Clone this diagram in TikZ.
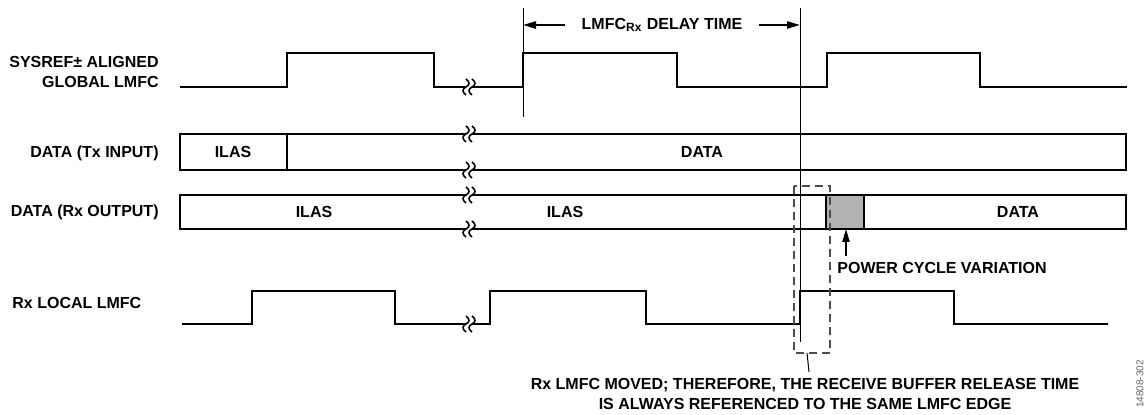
\documentclass[tikz,border=0pt]{standalone}
\usepackage{fontspec}
\setmainfont{Liberation Sans}
\usepackage{tikz}
\usetikzlibrary{arrows.meta,positioning,calc}
\tikzset{
  wave/.style={line width=1.3pt, line join=miter},
  frame/.style={line width=1pt},
  guide/.style={line width=0.5pt},
  lbl/.style={font=\bfseries\fontsize{8}{10}\selectfont, inner sep=0pt},
  arrow/.style={-{Triangle[length=6.5pt,width=3.6pt]}, line width=0.9pt},
  window/.style={draw=black!70, dash pattern=on 4pt off 2.5pt, line width=0.6pt},
  brk/.style={line width=0.8pt}
}

\begin{document}
\begin{tikzpicture}[x=0.5pt,y=-0.5pt]
\useasboundingbox (0,0) rectangle (1146,415);
% signal names
\node[lbl, anchor=east, align=right] (sysref) at (159,72) {SYSREF± ALIGNED\\GLOBAL LMFC};
\node[lbl, anchor=east] (txin) at (159,153) {DATA (Tx INPUT)};
\node[lbl, anchor=east] (rxout) at (159,212) {DATA (Rx OUTPUT)};
\node[lbl, anchor=west] (rxlmfc) at (12,303) {Rx LOCAL LMFC};
% global lmfc
\draw[wave] (180,87) -| (287,53) -| (434,87) -| (523,53) -| (677,87) -| (827,53) -| (980,87) -- (1127,87);
% rx local lmfc
\draw[wave] (182,324) -| (252,291) -| (395,324) -| (490,291) -| (646,324) -| (800,291) -| (954,324) -- (1108,324);
% tx data
\draw[frame] (180,134) rectangle (1126,170);
\draw[frame] (287,134) -- (287,170);
\node[lbl] (tilas) at (233,152) {ILAS};
\node[lbl] (tdata) at (702,152) {DATA};
% rx data
\draw[frame] (180,195) rectangle (1126,229);
\draw[frame, fill=black!30] (826,195) rectangle (864,229);
\node[lbl] (rilas) at (314,212) {ILAS};
\node[lbl] (rilasb) at (565,212) {ILAS};
\node[lbl] (rdata) at (1018,212) {DATA};
% breaks
\foreach \y in {87,134,170,195,229,324} {
  \fill[white] (466,\y-3) rectangle (472,\y+3);
  \foreach \x in {466,472}
    \draw[brk] (\x,\y-8) .. controls (\x+4,\y-5) and (\x+4,\y-2) .. (\x,\y) .. controls (\x-4,\y+2) and (\x-4,\y+5) .. (\x,\y+8);
}
% delay time
\coordinate (tL) at (523,25);
\coordinate (tR) at (800,25);
\draw[guide] (523,8) -- (523,117);
\draw[guide] (800,8) -- (800,342);
\node[lbl, inner xsep=8pt] (delay) at (662,25) {LMFC\textsubscript{Rx} DELAY TIME};
\draw[arrow] (delay.west) -- (tL);
\draw[arrow] (delay.east) -- (tR);
% window
\draw[window] (794,186) rectangle (830,353);
\coordinate (wb) at (807,353);
\node[lbl, align=center] (note) at (805,394) {Rx LMFC MOVED; THEREFORE, THE RECEIVE BUFFER RELEASE TIME\\IS ALWAYS REFERENCED TO THE SAME LMFC EDGE};
\draw[guide] (wb) -- ([xshift=2pt,yshift=3pt]note.north);
% power cycle
\node[lbl, anchor=west] (pcv) at (837,268) {POWER CYCLE VARIATION};
\coordinate (gry) at (846,229);
\draw[arrow] ($(pcv.north -| gry)+(0,-6)$) -- (gry);
% figure id
\node[font=\fontsize{5}{6}\selectfont, text=black!60, rotate=90] (figid) at (1140,384) {14808-302};
\end{tikzpicture}
\end{document}
